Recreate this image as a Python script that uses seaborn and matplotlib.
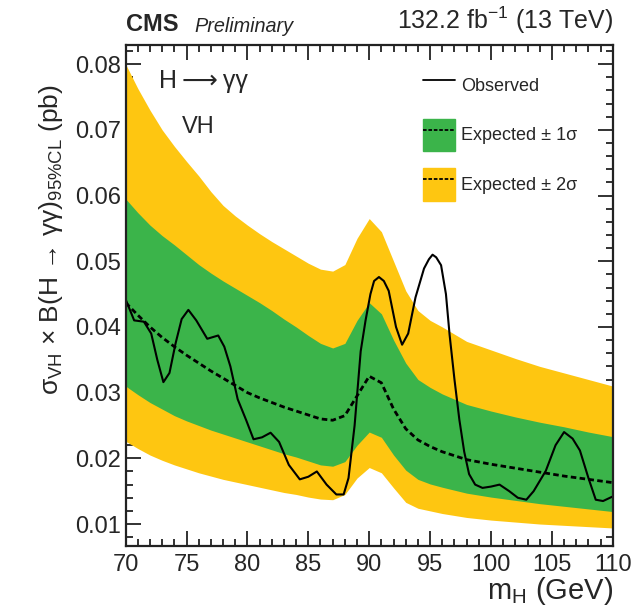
import numpy as np
import pandas as pd
import seaborn as sns
import matplotlib.pyplot as plt
from matplotlib.lines import Line2D
from matplotlib.patches import Patch
from matplotlib.legend_handler import HandlerTuple
from matplotlib.ticker import MultipleLocator

# expected limit and bands (pb) vs m_H (GeV)
mass = [70, 71, 72, 73, 74, 75, 76, 77, 78, 79, 80, 81, 82, 83, 84, 85, 86, 87, 88, 89, 90, 91, 92, 93, 94, 95,
        96, 98, 100, 102, 104, 106, 108, 110]
expected = [0.0437, 0.0418, 0.0400, 0.0384, 0.0370, 0.0357, 0.0345, 0.0333, 0.0322, 0.0311, 0.0300, 0.0292, 0.0285,
            0.0278, 0.0272, 0.0266, 0.0260, 0.0258, 0.0265, 0.0295, 0.0325, 0.0315, 0.0275, 0.0245, 0.0228, 0.0218,
            0.0210, 0.0198, 0.0191, 0.0185, 0.0179, 0.0173, 0.0168, 0.0163]
up1 = [0.0595, 0.0574, 0.0555, 0.0539, 0.0525, 0.0510, 0.0495, 0.0482, 0.0470, 0.0459, 0.0448, 0.0437, 0.0425,
       0.0412, 0.0400, 0.0387, 0.0375, 0.0368, 0.0375, 0.0410, 0.0437, 0.0420, 0.0380, 0.0345, 0.0320, 0.0308,
       0.0298, 0.0282, 0.0272, 0.0263, 0.0255, 0.0248, 0.0240, 0.0233]
lo1 = [0.0310, 0.0297, 0.0285, 0.0275, 0.0265, 0.0257, 0.0250, 0.0243, 0.0237, 0.0231, 0.0225, 0.0219, 0.0213,
       0.0207, 0.0202, 0.0196, 0.0190, 0.0188, 0.0195, 0.0220, 0.0240, 0.0232, 0.0205, 0.0182, 0.0168, 0.0161,
       0.0156, 0.0147, 0.0141, 0.0136, 0.0131, 0.0127, 0.0123, 0.0119]
up2 = [0.0800, 0.0763, 0.0730, 0.0700, 0.0675, 0.0652, 0.0630, 0.0606, 0.0585, 0.0569, 0.0555, 0.0542, 0.0530,
       0.0519, 0.0508, 0.0497, 0.0488, 0.0485, 0.0495, 0.0535, 0.0565, 0.0545, 0.0500, 0.0455, 0.0425, 0.0410,
       0.0400, 0.0378, 0.0365, 0.0352, 0.0340, 0.0330, 0.0320, 0.0310]
lo2 = [0.0226, 0.0215, 0.0205, 0.0197, 0.0190, 0.0184, 0.0178, 0.0173, 0.0168, 0.0164, 0.0160, 0.0156, 0.0152,
       0.0148, 0.0145, 0.0141, 0.0138, 0.0137, 0.0145, 0.0170, 0.0186, 0.0178, 0.0155, 0.0133, 0.0124, 0.0120,
       0.0116, 0.0110, 0.0106, 0.0103, 0.0100, 0.0098, 0.0096, 0.0094]

# observed limit
obs_mass = [70, 70.7, 71.5, 72.1, 72.6, 73.1, 73.6, 74.1, 74.6, 75.15, 75.8, 76.7, 77.6, 78.1, 78.6, 79.2, 79.9,
            80.5, 81.2, 81.9, 82.6, 83.4, 84.3, 85.0, 85.7, 86.5, 87.3, 87.9, 88.3, 88.8, 89.3, 89.7, 90.1, 90.4,
            90.8, 91.2, 91.6, 92.2, 92.7, 93.2, 93.8, 94.5, 94.9, 95.2, 95.5, 95.9, 96.3, 96.6, 97.0, 97.4, 97.8,
            98.2, 98.7, 99.3, 100.0, 100.7, 101.5, 102.2, 102.9, 103.5, 104.5, 105.3, 106.0, 106.7, 107.3, 108.0,
            108.6, 109.2, 110]
observed = [0.0442, 0.0410, 0.0408, 0.0390, 0.0350, 0.0316, 0.0330, 0.0375, 0.0412, 0.0426, 0.0410, 0.0382, 0.0387,
            0.0370, 0.0340, 0.0290, 0.0258, 0.0229, 0.0232, 0.0239, 0.0225, 0.0190, 0.0168, 0.0172, 0.0180, 0.0160,
            0.0145, 0.0145, 0.0170, 0.0250, 0.0363, 0.0410, 0.0450, 0.0470, 0.0476, 0.0470, 0.0455, 0.0400, 0.0373,
            0.0390, 0.0445, 0.0489, 0.0503, 0.0510, 0.0506, 0.0494, 0.0450, 0.0388, 0.0320, 0.0259, 0.0210, 0.0176,
            0.0160, 0.0155, 0.0157, 0.0160, 0.0150, 0.0140, 0.0137, 0.0150, 0.0181, 0.0220, 0.0240, 0.0230, 0.0212,
            0.0170, 0.0137, 0.0135, 0.0142]

sns.set_style("ticks")
plt.rcParams['font.family'] = ['Liberation Sans', 'DejaVu Sans']
plt.rcParams['mathtext.fontset'] = 'custom'
plt.rcParams['mathtext.rm'] = 'Liberation Sans'
plt.rcParams['mathtext.it'] = 'Liberation Sans:italic'

green = '#3bb44a'
yellow = '#fec611'

exp_df = pd.DataFrame({"mass": mass, "expected": expected, "up1": up1, "lo1": lo1, "up2": up2, "lo2": lo2})
obs_df = pd.DataFrame({"mass": obs_mass, "observed": observed})

fig = plt.figure(figsize=(6.41, 6.06), dpi=100)
ax = fig.add_axes([0.196, 0.0995, 0.76, 0.826])

ax.fill_between(exp_df["mass"], exp_df["lo2"], exp_df["up2"], color=yellow, lw=0)
ax.fill_between(exp_df["mass"], exp_df["lo1"], exp_df["up1"], color=green, lw=0)
sns.lineplot(data=exp_df, x="mass", y="expected", ax=ax, color='black', lw=2, linestyle=(0, (2, 1.2)))
sns.lineplot(data=obs_df, x="mass", y="observed", ax=ax, color='black', lw=1.5)

ax.set_xlim(70, 110)
ax.set_ylim(0.0067, 0.0829)
ax.xaxis.set_major_locator(MultipleLocator(5))
ax.xaxis.set_minor_locator(MultipleLocator(1))
ax.yaxis.set_minor_locator(MultipleLocator(0.002))
ax.set_yticks([0.01, 0.02, 0.03, 0.04, 0.05, 0.06, 0.07, 0.08])
ax.set_yticklabels(["0.01", "0.02", "0.03", "0.04", "0.05", "0.06", "0.07", "0.08"])
ax.tick_params(which='both', direction='in', top=True, right=True, labelsize=17, width=1.3, color='#222222')
ax.tick_params(which='major', length=11)
ax.tick_params(which='minor', length=5)
ax.tick_params(axis='x', pad=6)
for s in ax.spines.values():
    s.set_linewidth(1.6)
    s.set_color('#222222')
ax.set_xlabel("")
ax.set_ylabel("")

fig.text(0.08, 0.604, r"σ$_{\mathrm{VH}}$ × B(H → γγ)$_{\mathrm{95\%CL}}$ (pb)", rotation=90,
         ha='center', va='center', fontsize=19)
fig.text(0.956, 0.051, r"m$_{\mathrm{H}}$ (GeV)", ha='right', va='top', fontsize=21)

fig.text(0.196, 0.94, "CMS", fontsize=17, fontweight='bold', ha='left', va='bottom')
fig.text(0.303, 0.94, "Preliminary", fontsize=14.3, style='italic', ha='left', va='bottom')
fig.text(0.956, 0.94, r"132.2 fb$^{-1}$ (13 TeV)", fontsize=18, ha='right', va='bottom')

ax.text(72.7, 0.0775, "H\u2009⟶\u2009γγ", fontsize=18, ha='left', va='center')
ax.text(74.6, 0.0705, "VH", fontsize=17, ha='left', va='center')

h_obs = Line2D([], [], color='black', lw=1.3)
h_1s = (Patch(color=green), Line2D([], [], color='black', lw=1.3, linestyle=(0, (2, 1))))
h_2s = (Patch(color=yellow), Line2D([], [], color='black', lw=1.3, linestyle=(0, (2, 1))))
ax.legend([h_obs, h_1s, h_2s], ["Observed", "Expected ± 1σ", "Expected ± 2σ"],
          handler_map={tuple: HandlerTuple(ndivide=1, pad=0)},
          loc='upper left', bbox_to_anchor=(0.577, 0.985), frameon=False, fontsize=13,
          handlelength=1.8, handleheight=2.4, handletextpad=0.3, labelspacing=0.95)

fig.savefig("out.png", dpi=100)
